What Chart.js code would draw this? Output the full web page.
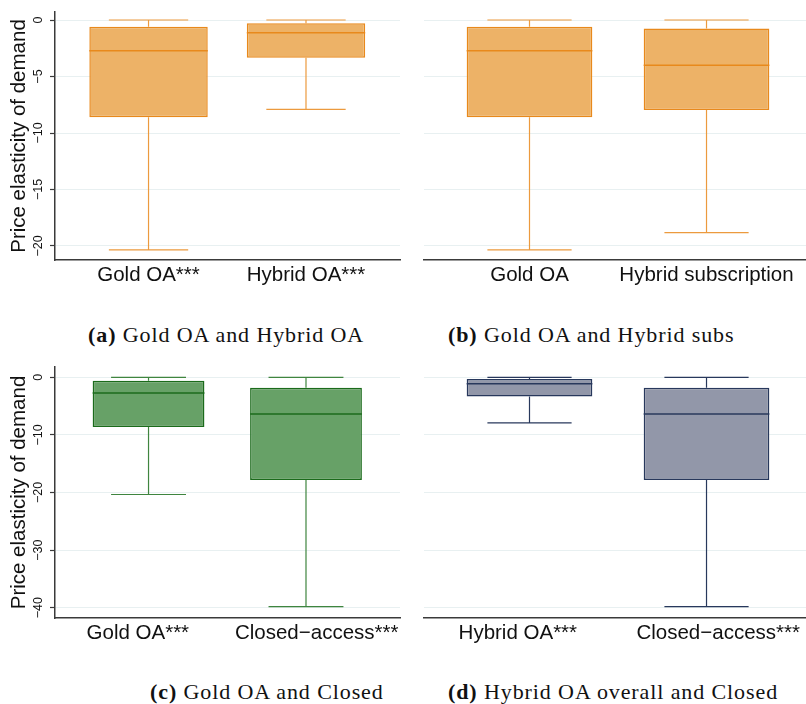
<!DOCTYPE html>
<html>
<head>
<meta charset="utf-8">
<script src="https://cdn.jsdelivr.net/npm/chart.js@4/dist/chart.umd.min.js"></script>
<style>
  html, body { margin: 0; padding: 0; background: #fff; }
  #fig { position: relative; width: 806px; height: 704px; overflow: hidden; background: #fff; }
  #fig canvas { position: absolute; }
  .cap { position: absolute; white-space: nowrap; font-family: "Liberation Serif", serif;
         font-size: 22px; line-height: 22px; color: #111; letter-spacing: 0.9px; }
  .cap b { font-weight: bold; }
</style>
</head>
<body>
<div id="fig">
  <canvas id="pa" width="403" height="300" style="left:0;top:0"></canvas>
  <canvas id="pb" width="403" height="300" style="left:403px;top:0"></canvas>
  <canvas id="pc" width="403" height="305" style="left:0;top:355px"></canvas>
  <canvas id="pd" width="403" height="305" style="left:403px;top:355px"></canvas>
  <div class="cap" style="left:88px;top:324px"><b>(a)</b> Gold OA and Hybrid OA</div>
  <div class="cap" style="left:448px;top:324px"><b>(b)</b> Gold OA and Hybrid subs</div>
  <div class="cap" style="left:150px;top:681px"><b>(c)</b> Gold OA and Closed</div>
  <div class="cap" style="left:448px;top:681px"><b>(d)</b> Hybrid OA overall and Closed</div>
</div>
<script>
// Tick values for the two y ranges
const yTicksNarrow = [-20, -15, -10, -5, 0];
const yTicksWide = [-40, -30, -20, -10, 0];

// (a) Gold OA vs Hybrid OA
const groupsA = ['Gold OA***', 'Hybrid OA***'];
const lowA  = [-20.35, -7.9];
const q1A   = [-8.61, -3.34];
const medA  = [-2.72, -1.12];
const q3A   = [-0.59, -0.29];
const highA = [0, 0];

// (b) Gold OA vs Hybrid subscription
const groupsB = ['Gold OA', 'Hybrid subscription'];
const lowB  = [-20.35, -18.82];
const q1B   = [-8.61, -7.96];
const medB  = [-2.72, -4.01];
const q3B   = [-0.59, -0.74];
const highB = [0, 0];

// (c) Gold OA vs Closed-access
const groupsC = ['Gold OA***', 'Closed\u2212access***'];
const lowC  = [-20.35, -39.8];
const q1C   = [-8.61, -17.83];
const medC  = [-2.72, -6.37];
const q3C   = [-0.59, -1.8];
const highC = [0, 0];

// (d) Hybrid OA vs Closed-access
const groupsD = ['Hybrid OA***', 'Closed\u2212access***'];
const lowD  = [-7.9, -39.8];
const q1D   = [-3.34, -17.83];
const medD  = [-1.12, -6.37];
const q3D   = [-0.29, -1.8];
const highD = [0, 0];

const AXIS = '#3a3a3a';
const GRID = '#e8f0f1';
const SANS = 'Liberation Sans, Arial, sans-serif';

// Whiskers and caps go under the boxes, medians on top of them.
const boxWhiskers = {
  id: 'boxWhiskers',
  beforeDatasetsDraw(chart) {
    const ds = chart.data.datasets[0];
    const s = ds.stats;
    const y = chart.scales.y;
    const c = chart.ctx;
    c.save();
    c.strokeStyle = ds.whiskerColor;
    c.lineWidth = 1.2;
    chart.getDatasetMeta(0).data.forEach((bar, i) => {
      const { x, width } = bar.getProps(['x', 'width'], true);
      const half = width * ds.capRatio / 2;
      const pHigh = y.getPixelForValue(s.high[i]);
      const pLow = y.getPixelForValue(s.low[i]);
      const pQ1 = y.getPixelForValue(s.q1[i]);
      const pQ3 = y.getPixelForValue(s.q3[i]);
      c.beginPath();
      c.moveTo(x, pHigh); c.lineTo(x, pQ3);
      c.moveTo(x, pQ1); c.lineTo(x, pLow);
      c.moveTo(x - half, pHigh); c.lineTo(x + half, pHigh);
      c.moveTo(x - half, pLow); c.lineTo(x + half, pLow);
      c.stroke();
    });
    c.restore();
  },
  afterDatasetsDraw(chart) {
    const ds = chart.data.datasets[0];
    const y = chart.scales.y;
    const c = chart.ctx;
    c.save();
    c.strokeStyle = ds.borderColor;
    c.lineWidth = 1.5;
    chart.getDatasetMeta(0).data.forEach((bar, i) => {
      const { x, width } = bar.getProps(['x', 'width'], true);
      const pMed = y.getPixelForValue(ds.stats.med[i]);
      c.beginPath();
      c.moveTo(x - width / 2, pMed); c.lineTo(x + width / 2, pMed);
      c.stroke();
    });
    c.restore();
  }
};

function drawPanel(id, groups, stats, yTicks, look) {
  return new Chart(document.getElementById(id), {
    type: 'bar',
    data: {
      datasets: [{
        data: groups.map((g, i) => ({ x: i + 1, y: [stats.q1[i], stats.q3[i]] })),
        stats: stats,
        backgroundColor: look.fill,
        borderColor: look.stroke,
        whiskerColor: look.whisker,
        borderWidth: 1.5,
        borderSkipped: false,
        categoryPercentage: 1,
        barPercentage: look.boxWidth,
        capRatio: 0.67
      }]
    },
    plugins: [boxWhiskers],
    options: {
      responsive: false,
      animation: false,
      events: [],
      layout: { padding: { top: look.padTop, right: look.padRight, left: 0, bottom: 0 } },
      plugins: { legend: { display: false }, tooltip: { enabled: false } },
      scales: {
        x: {
          type: 'linear',
          offset: false,
          min: look.xMin,
          max: look.xMax,
          // group labels sit under their boxes, nudged apart by labelSpread
          afterBuildTicks: s => {
            s.ticks = groups.map((g, i) => ({ value: i + 1 + (i === 0 ? -look.labelSpread : look.labelSpread) }));
          },
          afterFit: s => { s.height = look.xAxisH; },
          grid: { display: false, drawTicks: false, offset: false },
          border: { display: true, color: AXIS, width: 1.5 },
          ticks: {
            autoSkip: false, maxRotation: 0, minRotation: 0, padding: 3,
            color: '#111', font: { family: SANS, size: 20.5 },
            callback: (v, i) => groups[i]
          }
        },
        y: {
          min: look.yMin,
          max: look.yMax,
          afterBuildTicks: s => { s.ticks = yTicks.map(v => ({ value: v })); },
          afterFit: s => { s.width = look.yAxisW; },
          grid: { color: GRID, lineWidth: 1, drawTicks: look.showY, tickLength: 5, tickColor: AXIS, tickWidth: 1.2 },
          border: { display: look.showY, color: AXIS, width: 1.5 },
          ticks: {
            display: look.showY, minRotation: 90, maxRotation: 90, crossAlign: 'center', padding: 1,
            color: '#111', font: { family: SANS, size: 12.5 },
            callback: v => (v === 0 ? '0' : '\u2212' + Math.abs(v))
          },
          title: {
            display: look.showY, text: 'Price elasticity of demand', color: '#111',
            font: { family: SANS, size: 20.5 }, padding: { top: 7, bottom: 0 }
          }
        }
      }
    }
  });
}

const orange = { fill: '#edb267', stroke: '#e8891c', whisker: '#ec9a3e' };
const green  = { fill: '#67a167', stroke: '#1b6b1b', whisker: '#3f853f' };
const navy   = { fill: '#9297a9', stroke: '#28385c', whisker: '#28385c' };

drawPanel('pa', groupsA, { low: lowA, q1: q1A, med: medA, q3: q3A, high: highA }, yTicksNarrow,
  Object.assign({ showY: true, yAxisW: 55, padTop: 12, padRight: 3, xAxisH: 40, labelSpread: 0,
    xMin: 0.406, xMax: 2.597, yMin: -21.24, yMax: 0.71, boxWidth: 0.752 }, orange));

drawPanel('pb', groupsB, { low: lowB, q1: q1B, med: medB, q3: q3B, high: highB }, yTicksNarrow,
  Object.assign({ showY: false, yAxisW: 21, padTop: 12, padRight: 0, xAxisH: 40, labelSpread: 0,
    xMin: 0.404, xMax: 2.562, yMin: -21.24, yMax: 0.71, boxWidth: 0.71 }, orange));

drawPanel('pc', groupsC, { low: lowC, q1: q1C, med: medC, q3: q3C, high: highC }, yTicksWide,
  Object.assign({ showY: true, yAxisW: 55, padTop: 12, padRight: 3, xAxisH: 42, labelSpread: 0.068,
    xMin: 0.406, xMax: 2.597, yMin: -41.79, yMax: 1.79, boxWidth: 0.71 }, green));

drawPanel('pd', groupsD, { low: lowD, q1: q1D, med: medD, q3: q3D, high: highD }, yTicksWide,
  Object.assign({ showY: false, yAxisW: 21, padTop: 12, padRight: 0, xAxisH: 42, labelSpread: 0.066,
    xMin: 0.404, xMax: 2.562, yMin: -41.79, yMax: 1.79, boxWidth: 0.71 }, navy));
</script>
</body>
</html>
